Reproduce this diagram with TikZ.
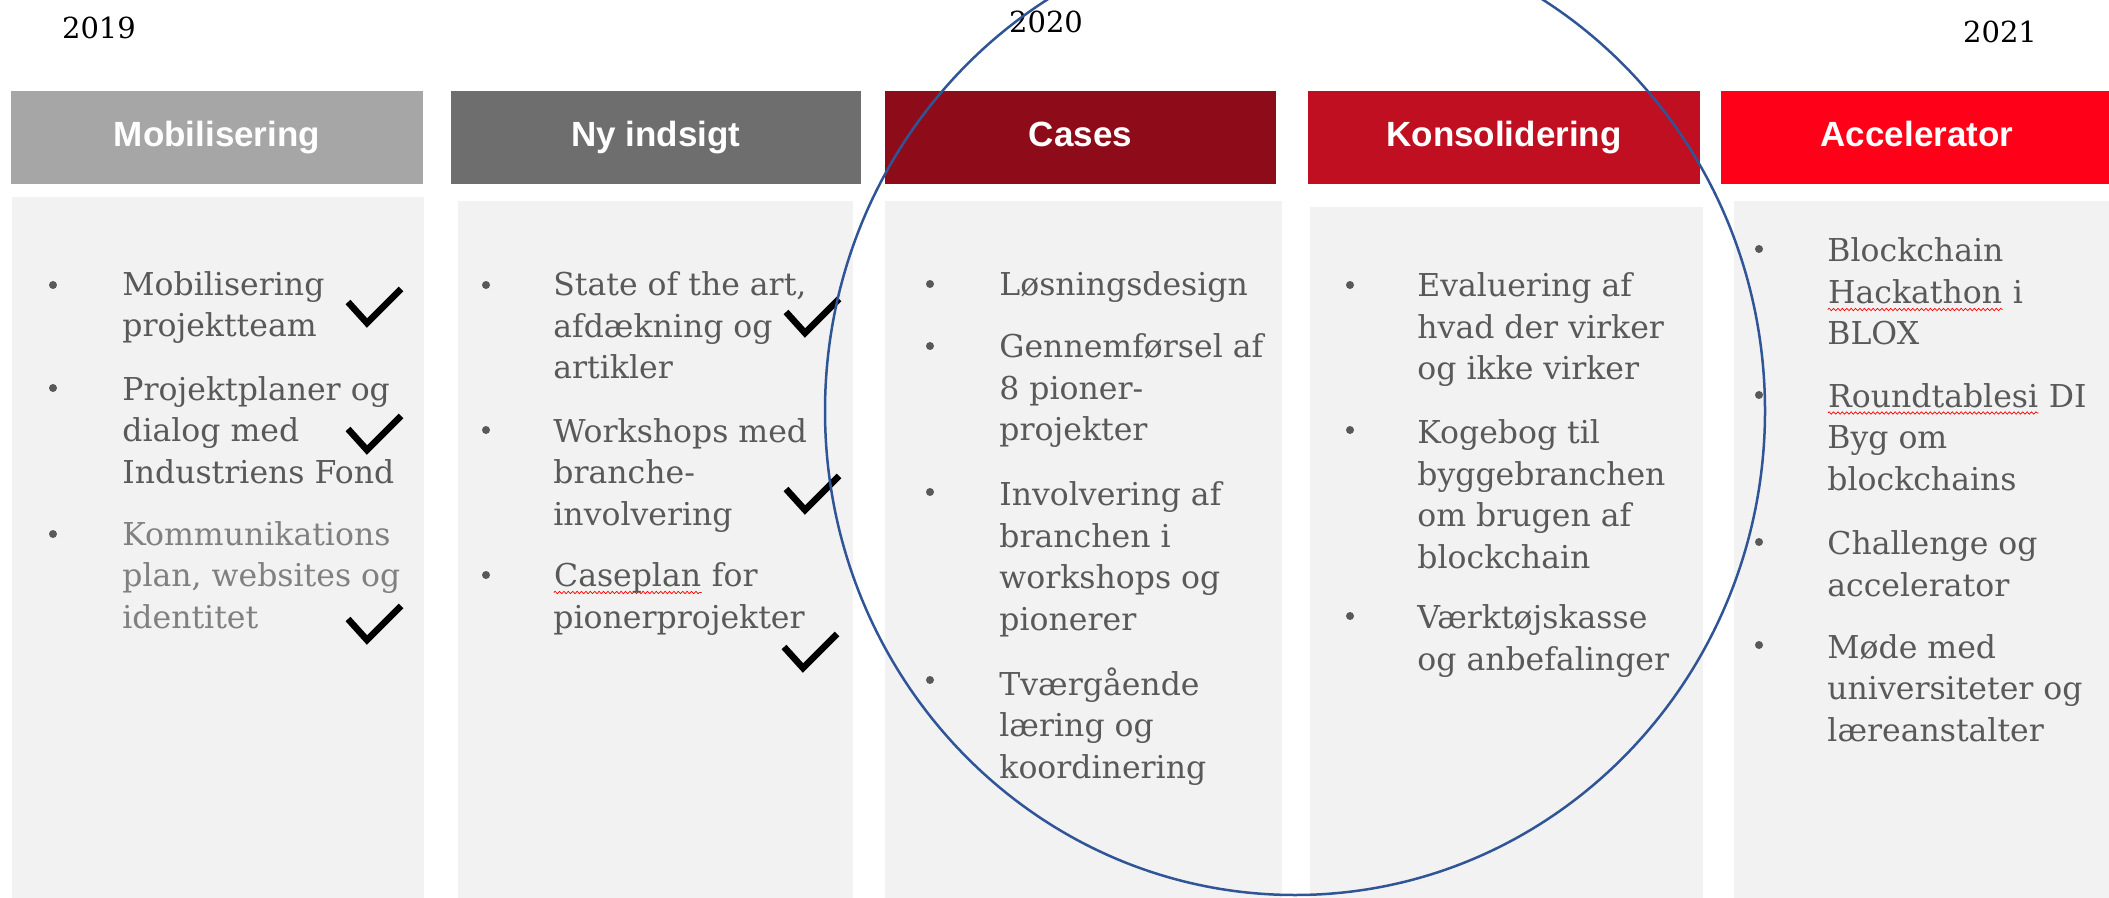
\documentclass[tikz,border=0pt]{standalone}
\usepackage{fontspec}
\setmainfont{DejaVu Serif}
\newfontfamily\headfont{Liberation Sans}
\usetikzlibrary{decorations.pathmorphing}

\definecolor{mobgray}{HTML}{A6A6A6}
\definecolor{nygray}{HTML}{6E6E6E}
\definecolor{casered}{HTML}{8E0C1A}
\definecolor{konsred}{HTML}{C00F21}
\definecolor{accred}{HTML}{FF0019}
\definecolor{boxgray}{HTML}{F2F2F2}
\definecolor{textgray}{HTML}{595959}
\definecolor{fadegray}{HTML}{808080}
\definecolor{ringblue}{HTML}{2F5597}

\newcommand\welle[1]{\tikz[baseline=(w.base)]{\node[inner sep=0pt] (w) {#1};
	\draw[red, line width=0.35pt, decorate, decoration={snake, amplitude=0.6pt, segment length=2.2pt}]
		([yshift=-3pt]w.base west) -- ([yshift=-3pt]w.base east);}}

\tikzstyle{year}=[inner sep=0pt, font=\fontsize{14.5}{17}\selectfont]
\tikzstyle{head}=[inner sep=0pt, minimum height=46.5pt, text height=12.5pt, text depth=3.7pt, text=white, font=\headfont\bfseries\fontsize{17.5}{20}\selectfont]
% anchor = Grundlinie der letzten Zeile
\tikzstyle{item}=[anchor=base west, inner sep=0pt, align=left, text=textgray, font=\fontsize{15.75}{20.75}\selectfont]
\tikzstyle{dot}=[circle, inner sep=0pt, minimum size=4pt, fill=textgray]
\tikzset{haken/.pic={\draw[line width=3.3pt] (-19,-21) -- (0,0) -- (34,-34);}}

\begin{document}
\begin{tikzpicture}[x=0.5pt, y=-0.5pt]
	\useasboundingbox (0,0) rectangle (2109,898);
	\clip (0,0) rectangle (2109,898);

	% Jahre
	\node (y2019) at (99,28) [year] {2019};
	\node (y2020) at (1046,22) [year] {2020};
	\node (y2021) at (2000,32) [year] {2021};

	% Kopfzeile
	\node (mob) at (217,137.5) [head, fill=mobgray, minimum width=206pt] {Mobilisering};
	\node (ny) at (656,137.5) [head, fill=nygray, minimum width=205pt] {Ny indsigt};
	\node (cases) at (1080.5,137.5) [head, fill=casered, minimum width=195.5pt] {Cases};
	\node (kons) at (1504,137.5) [head, fill=konsred, minimum width=196pt] {Konsolidering};
	\node (acc) at (1917,137.5) [head, fill=accred, minimum width=196pt] {Accelerator};

	% Spalten
	\fill[boxgray] (12,197) rectangle (424,898);
	\fill[boxgray] (458,201) rectangle (853,898);
	\fill[boxgray] (885,201) rectangle (1282,898);
	\fill[boxgray] (1310,207) rectangle (1703,898);
	\fill[boxgray] (1734,201) rectangle (2109,898);

	% Mobilisering
	\node (m1b) at (53,285) [dot] {};
	\node (m1) at (122,337) [item] {Mobilisering\\projektteam};
	\node (m2b) at (53,388) [dot] {};
	\node (m2) at (122,483) [item] {Projektplaner og\\dialog med\\Industriens Fond};
	\node (m3b) at (53,534) [dot] {};
	\node (m3) at (122,628) [item, text=fadegray] {Kommunikations\\plan, websites og\\identitet};
	\pic at (367,323) {haken};
	\pic at (367,450) {haken};
	\pic at (367,640) {haken};

	% Ny indsigt
	\node (n1b) at (486,285) [dot] {};
	\node (n1) at (553,379) [item] {State of the art,\\afdækning og\\artikler};
	\node (n2b) at (486,430) [dot] {};
	\node (n2) at (553,525) [item] {Workshops med\\branche-\\involvering};
	\node (n3b) at (486,575) [dot] {};
	\node (n3) at (553,628) [item] {\welle{Caseplan} for\\pionerprojekter};
	\pic at (805,333) {haken};
	\pic at (805,510) {haken};
	\pic at (803,668) {haken};

	% Cases
	\node (c1b) at (930,284) [dot] {};
	\node (c1) at (999,296) [item] {Løsningsdesign};
	\node (c2b) at (930,346) [dot] {};
	\node (c2) at (999,441) [item] {Gennemførsel af\\8 pioner-\\projekter};
	\node (c3b) at (930,492) [dot] {};
	\node (c3) at (999,630) [item] {Involvering af\\branchen i\\workshops og\\pionerer};
	\node (c4b) at (930,680) [dot] {};
	\node (c4) at (999,778) [item] {Tværgående\\læring og\\koordinering};

	% Konsolidering
	\node (k1b) at (1350,285) [dot] {};
	\node (k1) at (1417,380) [item] {Evaluering af\\hvad der virker\\og ikke virker};
	\node (k2b) at (1350,430) [dot] {};
	\node (k2) at (1417,568) [item] {Kogebog til\\byggebranchen\\om brugen af\\blockchain};
	\node (k3b) at (1350,616) [dot] {};
	\node (k3) at (1417,670) [item] {Værktøjskasse\\og anbefalinger};

	% Accelerator
	\node (a1b) at (1759,249) [dot] {};
	\node (a1) at (1827,345) [item] {Blockchain\\\welle{Hackathon} i\\BLOX};
	\node (a2b) at (1759,395) [dot] {};
	\node (a2) at (1827,490) [item] {\welle{Roundtablesi} DI\\Byg om\\blockchains};
	\node (a3b) at (1759,542) [dot] {};
	\node (a3) at (1827,596) [item] {Challenge og\\accelerator};
	\node (a4b) at (1759,645) [dot] {};
	\node (a4) at (1827,741) [item] {Møde med\\universiteter og\\læreanstalter};

	% Ring um 2020
	\draw[ringblue, line width=1.25pt] (1295,411) ellipse [x radius=470, y radius=484];

\end{tikzpicture}
\end{document}
